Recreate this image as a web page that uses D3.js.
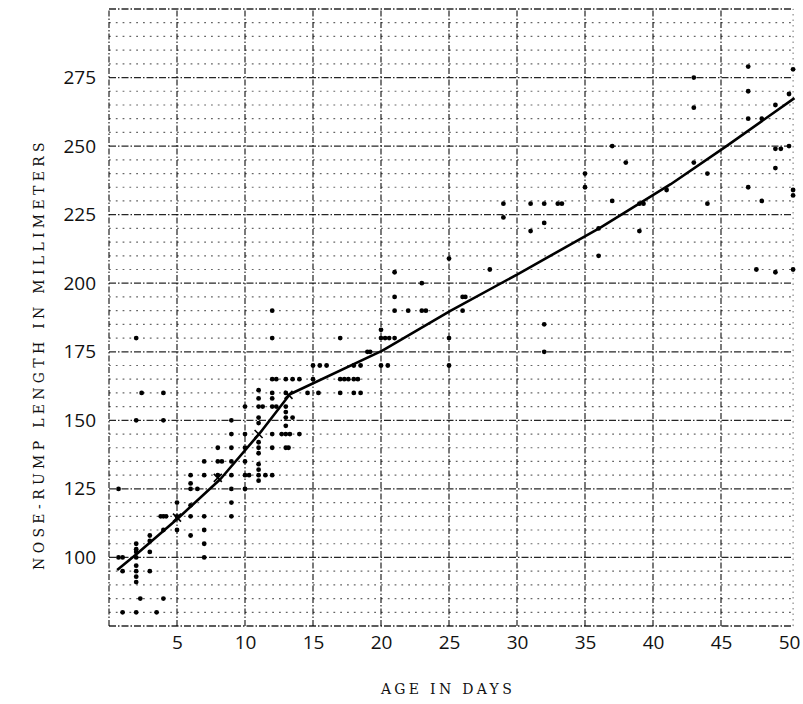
<!DOCTYPE html>
<html><head><meta charset="utf-8">
<script src="https://cdn.jsdelivr.net/npm/d3@7"></script>
<style>
body{margin:0;background:#fff;}
svg{display:block;}
</style></head>
<body>
<svg id="chart" width="803" height="704"></svg>
<script>
// ---- data ----
const xTicks = [5,10,15,20,25,30,35,40,45,50];
const yTicks = [100,125,150,175,200,225,250,275];
const xTitle = "AGE IN DAYS";
const yTitle = "NOSE-RUMP LENGTH IN MILLIMETERS";

// individual observations (age in days, nose-rump length in mm)
const obsDays = [
 1,2,3.5, 2.3,4,
 1,2,2,2,2,3,
 1,0.7,2,2,7,
 2,2,3,3,3,7,
 4,5,6,7,
 3.8,4,4.2,5,6,7,9,
 5,6,9,
 0.7,6,6.5,9,10,
 6,6,7,8,9,10,10.3,11,11,11,11,11.5,12,
 7,8,8.3,9,10,
 8,9,10,11,11,11,12,13,13.2,
 9,10,12,12.7,13,13.3,14,
 2,4,9,11,11,13,13,13.5,
 10,11,11.3,12,12.3,13,13,
 2.4,4,11,11,12,12,13,14.6,15.4,17,18,18.5,
 12,12.3,13,13.5,14,15,17,17.3,17.6,18,18.3,
 15,15.5,16,18,18.5,20,20.5,25,
 19,19.2,32,
 17,20,20.3,20.6,21,25,12,2,
 20,32,
 12,21,22,23,23.3,26,
 21,26,26.2,
 23,21,28,25,36,
 31,36,39,32,29,
 29,31,32,33,33.3,37,39,39.3,44,48,
 50.3,50.3,41,47,35,
 35,44,49,38,43,
 37,49,49.4,50,
 47,48,43,49,50,47,
 43,50.3,47,47.6,49,50.3
];
const obsLengths = [
 80,80,80, 85,85,
 95,97,95,93,91,95,
 100,100,100,102,100,
 105,103,108,106,102,105,
 110,110,108,110,
 115,115,115,115,115,115,115,
 120,119,120,
 125,125,125,125,125,
 130,127,130,130,130,130,130,130,132,128,134,130,130,
 135,135,135,135,135,
 140,140,140,140,138,142,140,140,140,
 145,145,145,145,145,145,145,
 150,150,150,151,149,151,148,151,
 155,155,155,155,155,155,153,
 160,160,161,158,160,158,160,160,160,160,160,160,
 165,165,165,165,165,165,165,165,165,165,165,
 170,170,170,170,170,170,170,170,
 175,175,175,
 180,180,180,180,180,180,180,180,
 183,185,
 190,190,190,190,190,190,
 195,195,195,
 200,204,205,209,210,
 219,220,219,222,224,
 229,229,229,229,229,230,229,229,229,230,
 232,234,234,235,235,
 240,240,242,244,244,
 250,249,249,250,
 260,260,264,265,269,270,
 275,278,279,205,204,205
];

// group means marked with crosses on the curve
const meanDays = [5,8,11,13.2];
const meanLengths = [114.5,129,145,159.3];

// fitted growth curve (two-phase)
const fitDays = [0.6,2.1,5.1,8.2,11.1,13.3,20.1,25.1,30.2,36.1,41.3,45.4,50.4];
const fitLengths = [95.4,101.5,114.4,128.6,145.4,159.5,175.4,189.9,203.7,220.2,236.1,250,267.5];

// ---- drawing ----
const svg = d3.select("#chart");
const x = d3.scaleLinear().domain([0,50]).range([109,789]);
const y = d3.scaleLinear().domain([75,300]).range([626,9]);
const xMax = 50.3;

// graph-paper rows every 5 mm
const rows = d3.range(75,301,5);
svg.append("g").selectAll("line").data(rows).join("line")
  .attr("x1", x(0)).attr("x2", x(xMax))
  .attr("y1", d=>y(d)).attr("y2", d=>y(d))
  .attr("stroke", "#000")
  .attr("stroke-width", d=> d%25===0 ? 1.3 : 1.2)
  .attr("stroke-opacity", d=> d%25===0 ? 0.85 : 0.6)
  .attr("stroke-dasharray", d=> d%25===0 ? "7,2,1.5,2" : "1.8,5");

// vertical paper lines every 5 days
const cols = d3.range(0,51,5);
svg.append("g").selectAll("line").data(cols).join("line")
  .attr("x1", d=>x(d===50?xMax:d)).attr("x2", d=>x(d===50?xMax:d))
  .attr("y1", y(75)).attr("y2", y(300))
  .attr("stroke", "#000")
  .attr("stroke-width", d=> d===50 ? 1 : 1.3)
  .attr("stroke-opacity", d=> d===50 ? 0.55 : 0.8)
  .attr("stroke-dasharray", d=> d===50 ? "1.5,4" : "6,2,1.5,2");

// observations
svg.append("g").selectAll("circle").data(obsDays).join("circle")
  .attr("cx", (d)=>x(d))
  .attr("cy", (d,i)=>y(obsLengths[i]))
  .attr("r", 2.4)
  .attr("fill", "#000");

// fitted curve
const line = d3.line().x(d=>x(d[0])).y(d=>y(d[1]));
svg.append("path")
  .datum(fitDays.map((d,i)=>[d,fitLengths[i]]))
  .attr("d", line)
  .attr("fill","none").attr("stroke","#000").attr("stroke-width",2.6)
  .attr("stroke-linejoin","round");

// mean crosses
const cross = svg.append("g").selectAll("g").data(meanDays).join("g")
  .attr("transform",(d,i)=>`translate(${x(d)},${y(meanLengths[i])})`);
cross.append("path").attr("d","M-4,-4L4,4M-4,4L4,-4")
  .attr("stroke","#000").attr("stroke-width",1.6);

// axes (labels only)
const yAxis = d3.axisLeft(y).tickValues(yTicks).tickSize(0).tickPadding(13);
const gy = svg.append("g").attr("transform",`translate(${x(0)},0)`).call(yAxis);
gy.select(".domain").remove();
gy.selectAll("text").attr("font-family","'Open Sans', sans-serif").attr("font-size",19).attr("fill","#111");

const xAxis = d3.axisBottom(x).tickValues(xTicks).tickSize(0).tickPadding(10);
const gx = svg.append("g").attr("transform",`translate(0,${y(75)})`).call(xAxis);
gx.select(".domain").remove();
gx.selectAll("text").attr("font-family","'Open Sans', sans-serif").attr("font-size",19).attr("fill","#111");

// titles (typewriter look)
svg.append("text")
  .attr("x", 448).attr("y", 694)
  .attr("text-anchor","middle")
  .attr("font-family","'DejaVu Serif', 'Liberation Serif', serif")
  .attr("font-size",14).attr("letter-spacing",3.3).attr("fill","#111")
  .text(xTitle);

svg.append("text")
  .attr("transform","translate(44,354) rotate(-90)")
  .attr("text-anchor","middle")
  .attr("font-family","'DejaVu Serif', 'Liberation Serif', serif")
  .attr("font-size",14).attr("letter-spacing",4.3).attr("fill","#111")
  .text(yTitle);
</script>
</body></html>
